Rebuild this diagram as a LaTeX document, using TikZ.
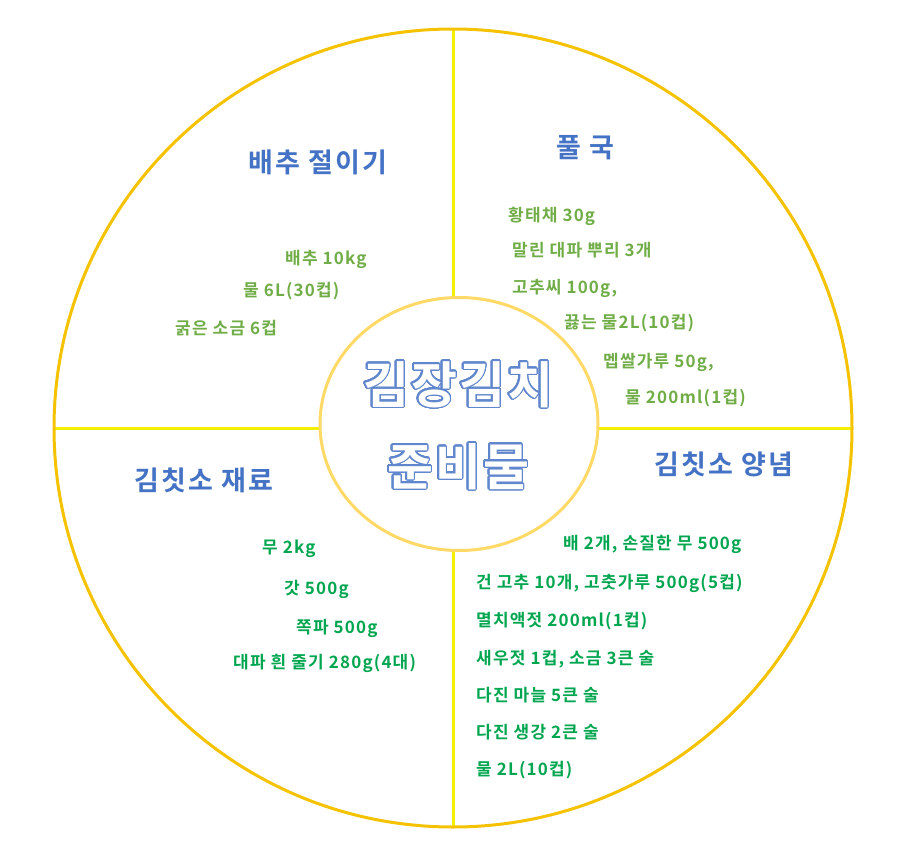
\documentclass[tikz,border=0pt]{standalone}
\usepackage{fontspec}
\usepackage{contour}
\usetikzlibrary{shapes.geometric}
\newfontfamily\kr{Noto Sans CJK KR}[BoldFont={Noto Sans CJK KR Bold}]
\newfontfamily\krh{Noto Sans CJK KR}[BoldFont={Noto Sans CJK KR Bold},LetterSpace=8]
\newfontfamily\kri{Noto Sans CJK KR}[BoldFont={Noto Sans CJK KR Bold},LetterSpace=7]
\newfontfamily\krt{Noto Sans CJK KR}[BoldFont={Noto Sans CJK KR Bold},LetterSpace=4]
\definecolor{gold}{HTML}{F5C200}
\definecolor{lgold}{HTML}{FFD966}
\definecolor{ylw}{HTML}{F2F000}
\definecolor{hblue}{HTML}{4472C4}
\definecolor{lgreen}{HTML}{70AD47}
\definecolor{dgreen}{HTML}{00A64F}
\contourlength{1.3pt}
\contournumber{32}
\begin{document}
\begin{tikzpicture}[x=1pt,y=-1pt,
 head/.style={font=\krh\bfseries\fontsize{27}{30}\selectfont,text=hblue},
 itemA/.style={font=\kri\bfseries\fontsize{17}{19}\selectfont,text=lgreen,anchor=west,inner sep=0},
 itemB/.style={font=\kri\bfseries\fontsize{17}{19}\selectfont,text=dgreen,anchor=west,inner sep=0},
 ttl/.style={font=\krt\bfseries\fontsize{50}{54}\selectfont}]
\useasboundingbox (0,0) rectangle (916,862);
\fill[white] (0,0) rectangle (916,862);
\coordinate (T) at (453,29); \coordinate (B) at (453,828);
\coordinate (L) at (54,428); \coordinate (R) at (852,428);
\draw[ylw,line width=3pt] (T) -- (B);
\draw[ylw,line width=3pt] (L) -- (R);
\draw[gold,line width=3pt] (453,428) circle (399);
\node[draw=lgold,line width=3pt,fill=white,ellipse,minimum width=278,minimum height=253,inner sep=0] (c) at (459,424) {};
\node[ttl] (t1) at (458,385) {\contour{hblue!85}{\textcolor{white}{김장김치}}};
\node[ttl] (t2) at (458,467) {\contour{hblue!85}{\textcolor{white}{준비물}}};
\node[head] (h1) at (318,162) {배추 절이기};
\node[head] (h2) at (585,148) {풀 국};
\node[head] (h3) at (724,464) {김칫소 양념};
\node[head] (h4) at (204,480) {김칫소 재료};
\node[itemA] (a1) at (285,259) {배추 10kg};
\node[itemA] (a2) at (243,291) {물 6L(30컵)};
\node[itemA] (a3) at (175,328) {굵은 소금 6컵};
\node[itemA] (b1) at (508,216) {황태채 30g};
\node[itemA] (b2) at (512,250) {말린 대파 뿌리 3개};
\node[itemA] (b3) at (512,288) {고추씨 100g,};
\node[itemA] (b4) at (564,323) {끓는 물2L(10컵)};
\node[itemA] (b5) at (603,362) {멥쌀가루 50g,};
\node[itemA] (b6) at (625,398) {물 200ml(1컵)};
\node[itemB] (c1) at (262,549) {무 2kg};
\node[itemB] (c2) at (284,589) {갓 500g};
\node[itemB] (c3) at (296,628) {쪽파 500g};
\node[itemB] (c4) at (233,663) {대파 흰 줄기 280g(4대)};
\node[itemB] (d1) at (563,544) {배 2개, 손질한 무 500g};
\node[itemB] (d2) at (476,583) {건 고추 10개, 고춧가루 500g(5컵)};
\node[itemB] (d3) at (476,621) {멸치액젓 200ml(1컵)};
\node[itemB] (d4) at (476,659) {새우젓 1컵, 소금 3큰 술};
\node[itemB] (d5) at (476,695) {다진 마늘 5큰 술};
\node[itemB] (d6) at (476,732) {다진 생강 2큰 술};
\node[itemB] (d7) at (476,770) {물 2L(10컵)};
\end{tikzpicture}
\end{document}
